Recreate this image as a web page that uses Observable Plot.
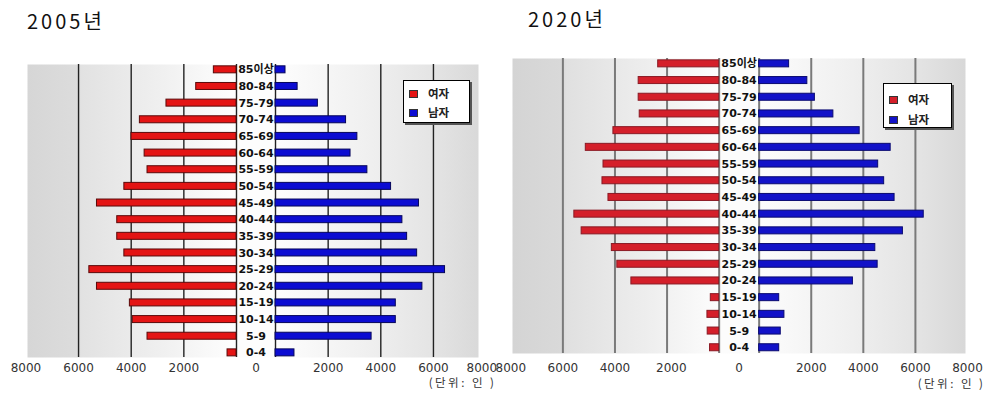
<!DOCTYPE html>
<html>
<head>
<meta charset="utf-8">
<script src="https://cdn.jsdelivr.net/npm/d3@7"></script>
<script src="https://cdn.jsdelivr.net/npm/@observablehq/plot@0.6"></script>
<style>
  body { margin: 0; background: #fff; }
  #wrap { position: relative; width: 994px; height: 394px; overflow: hidden; }
  .panel { position: absolute; top: 0; width: 497px; height: 394px; }
  .title { position: absolute; font-family: "Noto Sans CJK KR", sans-serif; font-size: 20px; letter-spacing: 3px; color: #111; line-height: 1; }
  .legend { position: absolute; background: #fff; border: 1.5px solid #000; box-shadow: 2px 2px 0 #555; box-sizing: border-box; }
  .legend .item { position: absolute; font-family: "Noto Sans CJK KR", sans-serif; font-weight: bold; font-size: 11.5px; color: #222; line-height: 1; white-space: nowrap; }
  .legend .sw { display: inline-block; width: 9px; height: 8px; border: 1px solid #333; box-sizing: border-box; vertical-align: middle; margin-right: 10px; position: relative; top: -1px; }
</style>
</head>
<body>
<div id="wrap">
  <div class="panel" id="p2005"></div>
  <div class="panel" id="p2020" style="left:497px"></div>
</div>
<script>
// ---- data ----
const ageGroups = ["85이상","80-84","75-79","70-74","65-69","60-64","55-59","50-54","45-49","40-44","35-39","30-34","25-29","20-24","15-19","10-14","5-9","0-4"];
const female2005 = [860,1530,2660,3670,3990,3490,3380,4260,5300,4530,4530,4260,5590,5300,4050,3940,3380,340];
const male2005   = [380,840,1610,2680,3110,2850,3490,4390,5450,4820,5000,5380,6440,5580,4570,4570,3650,720];
const female2020 = [2340,3090,3090,3050,4060,5120,4440,4480,4250,5560,5280,4120,3910,3370,320,450,440,350];
const male2020   = [1150,1850,2140,2850,3860,5050,4570,4800,5200,6320,5520,4460,4550,3600,770,970,830,770];
const tickSteps = [2000, 4000, 6000, 8000];
const gridSteps = [0, 2000, 4000, 6000];
const seriesNames = ["여자", "남자"];
const titles = ["2005년", "2020년"];
const unitLabel = "(단위: 인 )";

function panel(cfg) {
  const G = cfg.G;
  const rows = ageGroups.map((age, i) => ({age, female: cfg.female[i], male: cfg.male[i]}));
  const grid = gridSteps.flatMap(v => [-G - v, G + v]);
  const allTicks = [...tickSteps.map(v => -G - v), 0, ...tickSteps.map(v => G + v)];
  const fmt = d => d === 0 ? "0" : String(Math.abs(d) - G);
  // the tick at the panel's inner edge is drawn as an anchored text so it stays inside the panel
  const edgeTick = cfg.edge === "right" ? allTicks[allTicks.length - 1] : allTicks[0];
  const axisTicks = allTicks.filter(t => t !== edgeTick);
  const svg = Plot.plot({
    width: 497,
    height: 394,
    marginLeft: cfg.m[0], marginRight: cfg.m[1], marginTop: cfg.m[2], marginBottom: cfg.m[3],
    style: {fontFamily: "DejaVu Sans, sans-serif", fontSize: "12px", color: "#333", background: "transparent", overflow: "visible"},
    x: {domain: [-(8000 + G), 8000 + G], range: cfg.xRange, ticks: axisTicks, tickFormat: fmt, tickSize: 0, tickPadding: cfg.tickPad, label: null},
    y: {type: "band", domain: ageGroups, range: cfg.yRange, paddingInner: 0.58, paddingOuter: 0.29, round: false, axis: null},
    marks: [
      Plot.frame({fill: `url(#${cfg.id}bg)`, stroke: null}),
      Plot.ruleX(grid, {stroke: cfg.gridColor, strokeWidth: cfg.gridWidth}),
      Plot.barX(rows, {y: "age", x1: () => -G, x2: d => -G - d.female, fill: cfg.red, stroke: cfg.redStroke, strokeWidth: 1}),
      Plot.barX(rows, {y: "age", x1: () => G, x2: d => G + d.male, fill: cfg.blue, stroke: cfg.blueStroke, strokeWidth: 1}),
      Plot.text(rows, {x: () => 0, y: "age", text: "age", fontWeight: "bold", fontSize: 11, fill: "#111", fontFamily: "DejaVu Sans, Noto Sans CJK KR, sans-serif"}),
      Plot.text([edgeTick], {x: d => d, text: fmt, frameAnchor: "bottom", lineAnchor: "top", dy: cfg.tickPad, textAnchor: cfg.edge === "right" ? "end" : "start", dx: cfg.edgeDx, fontSize: 12, fill: "#333"}),
      Plot.text([unitLabel], {frameAnchor: "bottom-right", text: d => d, textAnchor: "end", dx: cfg.unitD[0], dy: cfg.unitD[1], fontSize: 11.5, fill: "#333", fontFamily: "Noto Sans CJK KR, sans-serif"})
    ]
  });
  const defs = d3.select(svg).insert("defs", ":first-child");
  const g = defs.append("linearGradient").attr("id", cfg.id + "bg").attr("x1", 0).attr("x2", 1).attr("y1", 0).attr("y2", 0);
  cfg.stops.forEach(([o, c]) => g.append("stop").attr("offset", o).attr("stop-color", c));
  d3.select(svg).selectAll("text").filter(function(){ return this.textContent === unitLabel; }).style("letter-spacing", "2.5px");
  const host = document.getElementById(cfg.id);
  host.appendChild(svg);
  // title
  const t = document.createElement("div");
  t.className = "title";
  t.textContent = cfg.title;
  t.style.left = cfg.titlePos[0] + "px";
  t.style.top = cfg.titlePos[1] + "px";
  host.appendChild(t);
  // legend
  const lg = document.createElement("div");
  lg.className = "legend";
  Object.assign(lg.style, {left: cfg.legend[0] + "px", top: cfg.legend[1] + "px", width: cfg.legend[2] + "px", height: cfg.legend[3] + "px"});
  [[seriesNames[0], cfg.red], [seriesNames[1], cfg.blue]].forEach(([name, col], i) => {
    const it = document.createElement("div");
    it.className = "item";
    it.style.left = "5px";
    it.style.top = (cfg.legendRowTop + i * cfg.legendRowGap) + "px";
    const sw = document.createElement("span");
    sw.className = "sw";
    sw.style.background = col;
    it.appendChild(sw);
    it.appendChild(document.createTextNode(name));
    lg.appendChild(it);
  });
  host.appendChild(lg);
}

panel({
  id: "p2005", title: titles[0], titlePos: [27, 11],
  female: female2005, male: male2005,
  G: 741, xRange: [25.4, 485.6], yRange: [61, 360.7],
  m: [27, 19, 64, 37], tickPad: 6, unitD: [18, 29], edge: "right", edgeDx: 11,
  gridColor: "#222", gridWidth: 1.4,
  red: "#e41414", redStroke: "#5a0a0a", blue: "#0c0cd2", blueStroke: "#06065a",
  stops: [[0, "#d6d6d6"], [0.11, "#dcdcdc"], [0.12, "#e2e2e2"], [0.3, "#f0f0f0"], [0.45, "#fdfdfd"], [0.55, "#fdfdfd"], [0.75, "#f0f0f0"], [0.9, "#e4e4e4"], [1, "#d9d9d9"]],
  legend: [403, 80, 67, 43], legendRowTop: 7, legendRowGap: 19
});

panel({
  id: "p2020", title: titles[1], titlePos: [31, 9],
  female: female2020, male: male2020,
  G: 768, xRange: [13.3, 470], yRange: [55, 355.6],
  m: [15, 29, 58, 41], tickPad: 10, unitD: [20, 34.5], edge: "left", edgeDx: -11,
  gridColor: "#7a7a7a", gridWidth: 2,
  red: "#d41f2a", redStroke: "#8a1a24", blue: "#1212c8", blueStroke: "#0a0a70",
  stops: [[0, "#d4d4d4"], [0.11, "#d9d9d9"], [0.12, "#e0e0e0"], [0.3, "#eeeeee"], [0.45, "#fcfcfc"], [0.55, "#fcfcfc"], [0.75, "#efefef"], [0.9, "#e3e3e3"], [1, "#d8d8d8"]],
  legend: [386, 83, 69, 45], legendRowTop: 10, legendRowGap: 20
});
</script>
</body>
</html>
